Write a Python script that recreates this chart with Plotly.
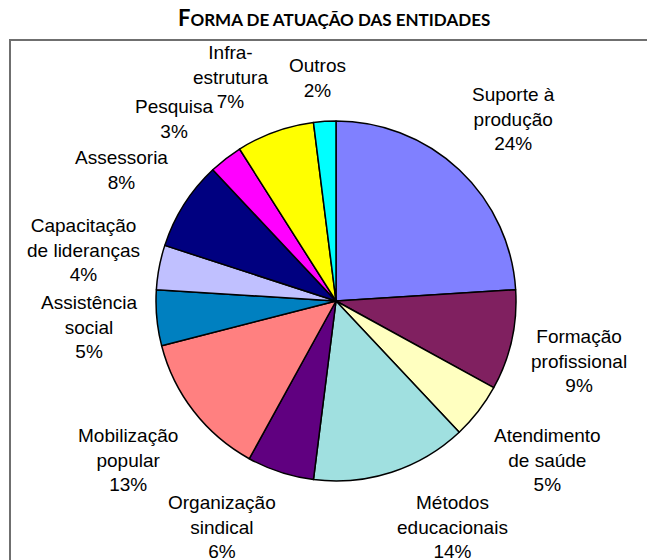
import math
import plotly.graph_objects as go

# ---- data ----
categories = [
    "Suporte à\nprodução", "Formação\nprofissional", "Atendimento\nde saúde",
    "Métodos\neducacionais", "Organização\nsindical", "Mobilização\npopular",
    "Assistência\nsocial", "Capacitação\nde lideranças", "Assessoria",
    "Pesquisa", "Infra-\nestrutura", "Outros",
]
values = [24, 9, 5, 14, 6, 13, 5, 4, 8, 3, 7, 2]
colors = [
    "#8080FF", "#802060", "#FFFFC0", "#A0E0E0", "#600080", "#FF8080",
    "#0080C0", "#C0C0FF", "#000080", "#FF00FF", "#FFFF00", "#00FFFF",
]
title_first = "F"
title_rest = "ORMA DE ATUAÇÃO DAS ENTIDADES"

# ---- layout geometry ----
W, H = 647, 560
CX, CY, R = 336, 301, 180
FS = 19
LINE_H = FS * 1.3
GAP = 19
KX, KY = 1.6, 1.0

# rough Arial/Liberation Sans glyph widths (em)
def char_w(ch):
    if ch in "iljI'|!.,:;":
        return 0.24
    if ch in "frt-() ":
        return 0.31
    if ch in "mwMW":
        return 0.83
    if ch in "%":
        return 0.89
    if ch.isupper():
        return 0.68
    if ch in "sczç":
        return 0.5
    return 0.556

def text_w(s):
    return sum(char_w(c) for c in s) * FS

def clamp(v):
    return max(0.0, min(1.0, v))

fig = go.Figure(go.Pie(
    labels=[c.replace("\n", " ") for c in categories],
    values=values,
    sort=False,
    direction="clockwise",
    rotation=0,
    marker=dict(colors=colors, line=dict(color="black", width=1.5)),
    textinfo="none",
    hoverinfo="label+percent",
    showlegend=False,
    domain=dict(x=[(CX - R) / W, (CX + R) / W],
                y=[(H - CY - R) / H, (H - CY + R) / H]),
))

annotations = []
total = sum(values)
cum = 0
for cat, v in zip(categories, values):
    mid = (cum + v / 2) / total * 2 * math.pi
    cum += v
    s, c = math.sin(mid), math.cos(mid)
    lines = cat.split("\n") + [f"{v}%"]
    w = max(text_w(l) for l in lines)
    h = len(lines) * LINE_H
    # anchor point just outside the pie edge
    ax = CX + (R + GAP) * s
    ay = CY - (R + GAP) * c
    fx = clamp(0.5 - KX * s)
    fy = clamp(0.5 + KY * c)
    px = ax - fx * w + w / 2
    py = ay - fy * h + h / 2
    annotations.append(dict(
        x=px / W, y=1 - py / H, xref="paper", yref="paper",
        text="<br>".join(lines), showarrow=False,
        xanchor="center", yanchor="middle", align="center",
        font=dict(family="Liberation Sans, Arial", size=FS, color="black"),
    ))

annotations.append(dict(
    x=334 / W, y=1 - 17 / H, xref="paper", yref="paper",
    text=f"<b><span style='font-size:22px'>{title_first}</span>{title_rest}</b>",
    showarrow=False, xanchor="center", yanchor="middle",
    font=dict(family="Lato", size=17, color="black"),
))

fig.update_layout(
    width=W, height=H,
    margin=dict(l=0, r=0, t=0, b=0),
    paper_bgcolor="white", plot_bgcolor="white",
    annotations=annotations,
    shapes=[dict(type="rect", xref="paper", yref="paper",
                 x0=10 / W, x1=1.05, y0=-0.05, y1=1 - 40 / H,
                 line=dict(color="#6f6f6f", width=2), fillcolor="rgba(0,0,0,0)")],
)

fig.write_html(
    "out.html",
    config={"displayModeBar": False},
    post_script="document.body.style.margin='0';document.body.style.overflow='hidden';",
)
